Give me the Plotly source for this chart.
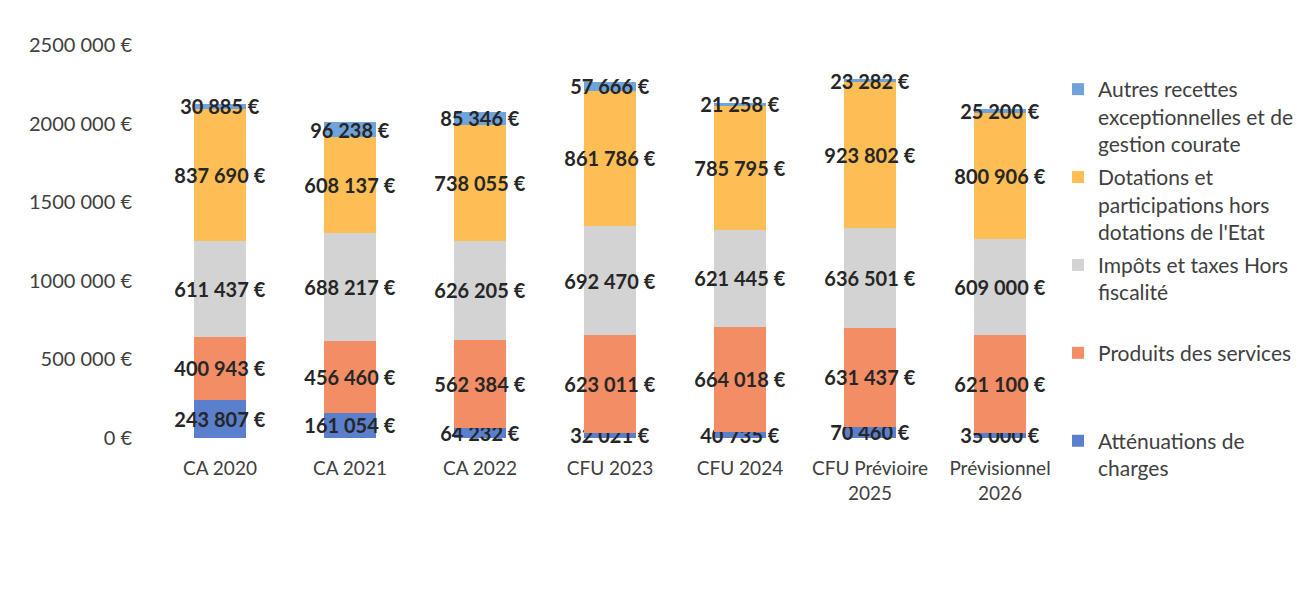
import plotly.graph_objects as go

categories = ["CA 2020", "CA 2021", "CA 2022", "CFU 2023", "CFU 2024",
              "CFU Prévioire<br>2025", "Prévisionnel<br>2026"]

attenuations = [243807, 161054, 64232, 32021, 40735, 70460, 35000]
produits = [400943, 456460, 562384, 623011, 664018, 631437, 621100]
impots = [611437, 688217, 626205, 692470, 621445, 636501, 609000]
dotations = [837690, 608137, 738055, 861786, 785795, 923802, 800906]
autres = [30885, 96238, 85346, 57666, 21258, 23282, 25200]

tick_values = [0, 500000, 1000000, 1500000, 2000000, 2500000]
tick_labels = ["0 €", "500 000 €", "1000 000 €", "1500 000 €", "2000 000 €", "2500 000 €"]

# (legend name, values, colour, legend rank)
series = [
    ("Atténuations de<br>charges", attenuations, "#5A7FCC", 5),
    ("Produits des services<br>&nbsp;<br>&nbsp;", produits, "#F38D66", 4),
    ("Impôts et taxes Hors<br>fiscalité<br>&nbsp;", impots, "#D3D3D3", 3),
    ("Dotations et<br>participations hors<br>dotations de l'Etat", dotations, "#FDBE55", 2),
    ("Autres recettes<br>exceptionnelles et de<br>gestion courate", autres, "#6FA3DA", 1),
]


def fmt(v):
    return f"{v:,}".replace(",", " ") + " €"


fig = go.Figure()
for i, (name, vals, color, rank) in enumerate(series):
    fig.add_trace(go.Bar(
        x=categories, y=vals, name=name, marker_color=color,
        marker_line_width=0,
        text=[fmt(v) for v in vals],
        textposition="inside", insidetextanchor="middle",
        textangle=0, constraintext="none", cliponaxis=False,
        textfont=dict(family="Lato", size=20, color="#262626", weight="bold"),
        legendgroup=f"g{i}", legendrank=rank,
        hoverinfo="skip",
    ))

fig.update_layout(
    barmode="stack",
    bargap=0.6,
    width=1303, height=597,
    margin=dict(l=147, r=246, t=37, b=167, autoexpand=False),
    plot_bgcolor="white", paper_bgcolor="white",
    font=dict(family="Lato", size=19, color="#404040"),
    uniformtext=dict(minsize=20, mode="show"),
    showlegend=True,
    legend=dict(
        xref="container", yref="container",
        x=1050 / 1303, xanchor="left", y=1 - 61 / 597, yanchor="top",
        traceorder="grouped", tracegroupgap=3,
        valign="top", itemwidth=30, maxheight=560,
        font=dict(family="Lato", size=21, color="#404040"),
        bgcolor="rgba(0,0,0,0)",
    ),
    xaxis=dict(showgrid=False, showline=False, ticks="", automargin=False,
               ticklabelstandoff=17,
               tickfont=dict(size=19, color="#404040")),
    yaxis=dict(range=[0, 2500000], tickvals=tick_values, ticktext=tick_labels,
               showgrid=False, showline=False, zeroline=False, ticks="",
               automargin=False, ticklabelstandoff=22,
               tickfont=dict(size=20, color="#404040")),
)

fig.write_html("out.html")
